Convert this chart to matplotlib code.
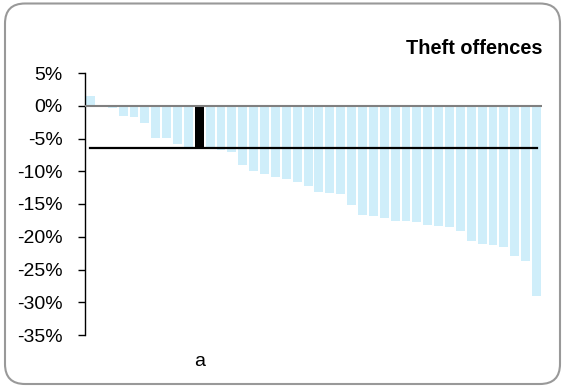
import numpy as np
import matplotlib
matplotlib.use("Agg")
import matplotlib.pyplot as plt
from matplotlib.patches import FancyBboxPatch
from matplotlib.ticker import FuncFormatter

# Werte (in %)
values = [1.5, 0.0, -0.4, -1.5, -1.7, -2.7, -4.85, -4.85, -5.9, -6.3,
          -6.5, -6.6, -6.75, -7.1, -9.0, -10.0, -10.45, -10.85, -11.2, -11.6,
          -12.3, -13.2, -13.3, -13.45, -15.2, -16.65, -16.9, -17.2, -17.6, -17.6,
          -17.8, -18.2, -18.3, -18.5, -19.05, -20.7, -21.1, -21.25, -21.5, -23.0,
          -23.7, -29.0]
highlight = 10          # index des schwarzen Balkens
labels = [""] * len(values)
labels[highlight] = "a"
mean_value = -6.45
title = "Theft offences"
yticks = [5, 0, -5, -10, -15, -20, -25, -30, -35]

plt.rcParams['font.family'] = ['Liberation Sans', 'DejaVu Sans']

fig = plt.figure(figsize=(5.62, 3.86), dpi=100)
ax = fig.add_axes([85 / 562, 1 - 335 / 386, 457 / 562, 262 / 386])

x = np.arange(len(values))
colors = ['#cfeefa'] * len(values)
colors[highlight] = 'black'
ax.bar(x, values, width=0.82, color=colors, zorder=2)

# Nulllinie und Mittelwert
ax.axhline(0, color='#808080', lw=1.5, zorder=3)
ax.plot([x[0], x[-1]], [mean_value, mean_value], color='black', lw=1.6, zorder=4)

ax.set_xlim(-0.5, len(values) - 0.5)
ax.set_ylim(-35, 5)
ax.set_yticks(yticks)
ax.yaxis.set_major_formatter(FuncFormatter(lambda v, p: f"{v:.0f}%"))
ax.set_xticks(x)
ax.set_xticklabels(labels)

for s in ['top', 'right', 'bottom']:
    ax.spines[s].set_visible(False)
ax.spines['left'].set_linewidth(1.0)
ax.tick_params(axis='y', length=5, width=1, labelsize=14, pad=11)
ax.tick_params(axis='x', length=0, labelsize=14, pad=13)

fig.text(542 / 562, 1 - 48 / 386, title, ha='right', va='center',
         fontsize=14.4, fontweight='bold')

# Rahmen mit runden Ecken
border = FancyBboxPatch((0.05, 0.02), 5.55, 3.805,
                        boxstyle="round,pad=0,rounding_size=0.2",
                        transform=fig.dpi_scale_trans, fill=False,
                        edgecolor='#999999', lw=1.5)
fig.patches.append(border)

fig.savefig("out.png", dpi=100)
